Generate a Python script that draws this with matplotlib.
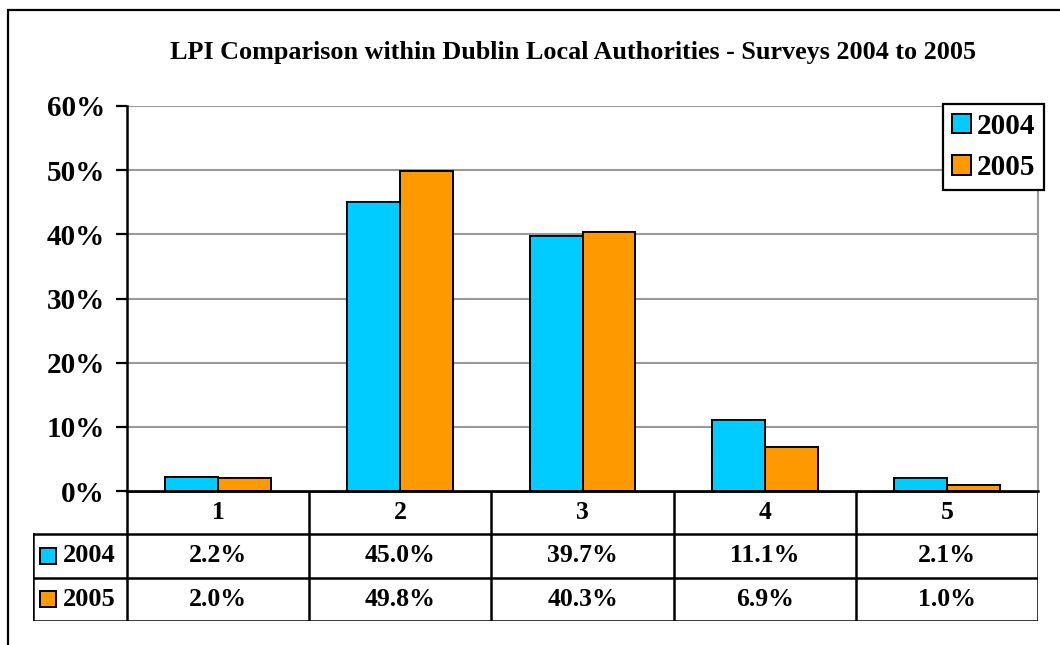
import numpy as np
import matplotlib.pyplot as plt
from matplotlib.patches import Rectangle
from matplotlib.lines import Line2D

# ─── Data ───────────────────────────────────────────────
categories = ['1', '2', '3', '4', '5']
series_names = ['2004', '2005']
vals_2004 = [2.2, 45.0, 39.7, 11.1, 2.1]
vals_2005 = [2.0, 49.8, 40.3, 6.9, 1.0]
y_ticks = [0, 10, 20, 30, 40, 50, 60]
title = 'LPI Comparison within Dublin Local Authorities - Surveys 2004 to 2005'

colors = ['#00CCFF', '#FF9900']
FONT = 'Liberation Serif'

W, H = 1060, 645
fig = plt.figure(figsize=(W / 100, H / 100), dpi=100)

def px(x0, y0, x1, y1):
    # pixel box (top-left origin) -> figure fraction rect
    return [x0 / W, 1 - y1 / H, (x1 - x0) / W, (y1 - y0) / H]

# outer frame
fig.add_artist(Rectangle((8 / W, -0.1), 1.2, 1 - 10 / H + 0.1, transform=fig.transFigure,
                         fill=False, ec='black', lw=1.6))

# ─── Main chart ─────────────────────────────────────────
ax = fig.add_axes(px(127, 106, 1038, 491))
x = np.arange(len(categories))
bw = 0.29
series = [vals_2004, vals_2005]
for i, (vals, c) in enumerate(zip(series, colors)):
    ax.bar(x + (i - 0.5) * bw, np.array(vals) / 100, width=bw, color=c,
           edgecolor='black', linewidth=1.4, zorder=3, label=series_names[i])

ax.set_xlim(-0.5, len(categories) - 0.5)
ax.set_ylim(0, 0.6)
ax.set_yticks([v / 100 for v in y_ticks])
ax.set_yticklabels([f'{v}%' for v in y_ticks], fontsize=21, fontweight='bold', family=FONT)
ax.set_xticks([])
ax.yaxis.grid(True, color='#999999', lw=1.5, zorder=0)
ax.tick_params(axis='y', direction='out', length=8, width=1.6, pad=8)
ax.spines['top'].set_visible(False)
ax.spines['right'].set_color('#999999')
ax.spines['right'].set_linewidth(1.5)
ax.spines['left'].set_linewidth(1.8)
ax.spines['bottom'].set_linewidth(1.8)

fig.text(573 / W, 1 - 52 / H, title, ha='center', va='center', fontsize=18.8,
         fontweight='bold', family=FONT)

leg = ax.legend(loc='upper right', bbox_to_anchor=(1044 / W, 1 - 104 / H),
                bbox_transform=fig.transFigure, prop={'family': FONT, 'weight': 'bold', 'size': 21},
                frameon=True, fancybox=False, framealpha=1, handlelength=0.65, handleheight=0.65,
                handletextpad=0.2, borderpad=0.3, labelspacing=0.5, borderaxespad=0)
leg.get_frame().set_edgecolor('black')
leg.get_frame().set_linewidth(1.6)

# ─── Data table ─────────────────────────────────────────
cat_px = (1038 - 127) / len(categories)
lab_w = (127 - 33) / cat_px
tx = fig.add_axes(px(33, 491, 1038, 621))
tx.set_xlim(-0.5 - lab_w, len(categories) - 0.5)
tx.set_ylim(3, 0)
tx.axis('off')
lk = dict(color='black', lw=1.8, solid_capstyle='projecting')
n = len(categories)
# horizontal lines
tx.add_line(Line2D([-0.5, n - 0.5], [0, 0], **lk))
for r in (1, 2, 3):
    tx.add_line(Line2D([-0.5 - lab_w, n - 0.5], [r, r], **lk))
# vertical lines
for k in range(n + 1):
    tx.add_line(Line2D([k - 0.5, k - 0.5], [0, 3], **lk))
tx.add_line(Line2D([-0.5 - lab_w, -0.5 - lab_w], [1, 3], **lk))

tfont = dict(family=FONT, fontweight='bold', fontsize=18.5, ha='center', va='center')
for i, c in enumerate(categories):
    tx.text(i, 0.5, c, **tfont)
    for r, vals in enumerate(series):
        tx.text(i, 1.5 + r, f'{vals[i]:.1f}%', **tfont)
for r, (name, c) in enumerate(zip(series_names, colors)):
    tx.plot([-0.5 - lab_w + 0.082], [1.5 + r], marker='s', ms=12, mfc=c, mec='black',
            mew=1.4, clip_on=False)
    tx.text(-0.5 - lab_w + 0.165, 1.5 + r, name, family=FONT, fontweight='bold',
            fontsize=19, ha='left', va='center')

fig.savefig('out.png', dpi=100)
